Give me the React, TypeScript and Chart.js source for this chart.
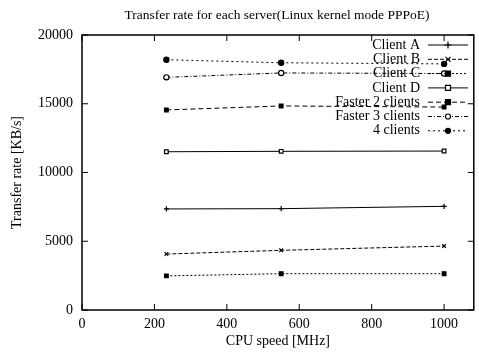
import React, { useEffect, useRef } from "react";
import { Chart, registerables } from "chart.js";

Chart.register(...registerables);

const cpuSpeeds = [233, 550, 1000];
const seriesNames = ["Client A", "Client B", "Client C", "Client D", "Faster 2 clients", "Faster 3 clients", "4 clients"];
const clientA = [7350, 7370, 7540];
const clientB = [4070, 4340, 4650];
const clientC = [2480, 2640, 2640];
const clientD = [11510, 11540, 11560];
const faster2 = [14550, 14840, 14760];
const faster3 = [16920, 17240, 17200];
const clients4 = [18200, 17980, 17900];
const xTicks = [0, 200, 400, 600, 800, 1000];
const yTicks = [0, 5000, 10000, 15000, 20000];

const FONT = "'Liberation Serif', 'DejaVu Serif', serif";

const styles = [
  { dash: [], point: "cross", fill: "#000" },
  { dash: [4, 2], point: "crossRot", fill: "#000" },
  { dash: [2, 2], point: "rect", fill: "#000" },
  { dash: [], point: "rect", fill: "#fff" },
  { dash: [5, 3], point: "rect", fill: "#000" },
  { dash: [4, 2, 1, 2], point: "circle", fill: "#fff" },
  { dash: [2, 3], point: "circle", fill: "#000" },
];

function drawMarker(ctx: CanvasRenderingContext2D, kind: string, x: number, y: number, fill: string) {
  const r = 2.5;
  ctx.save();
  ctx.setLineDash([]);
  ctx.lineWidth = 1.2;
  ctx.strokeStyle = "#000";
  ctx.fillStyle = fill;
  ctx.beginPath();
  if (kind === "cross") {
    ctx.moveTo(x - r - 1, y); ctx.lineTo(x + r + 1, y);
    ctx.moveTo(x, y - r - 1); ctx.lineTo(x, y + r + 1);
    ctx.stroke();
  } else if (kind === "crossRot") {
    ctx.moveTo(x - r, y - r); ctx.lineTo(x + r, y + r);
    ctx.moveTo(x + r, y - r); ctx.lineTo(x - r, y + r);
    ctx.stroke();
  } else if (kind === "rect") {
    ctx.rect(x - r, y - r, 2 * r, 2 * r);
    ctx.fill(); ctx.stroke();
  } else {
    ctx.arc(x, y, r, 0, Math.PI * 2);
    ctx.fill(); ctx.stroke();
  }
  ctx.restore();
}

export default function App() {
  const ref = useRef<HTMLCanvasElement>(null);
  useEffect(() => {
    const values = [clientA, clientB, clientC, clientD, faster2, faster3, clients4];
    const datasets = seriesNames.map((name, i) => ({
      label: name,
      data: cpuSpeeds.map((x, j) => ({ x, y: values[i][j] })),
      borderColor: "#000",
      borderWidth: 1,
      borderDash: styles[i].dash,
      pointStyle: styles[i].point as any,
      pointRadius: 2.6,
      pointBorderWidth: 1.2,
      pointBorderColor: "#000",
      pointBackgroundColor: styles[i].fill,
      showLine: true,
      fill: false,
      tension: 0,
    }));

    const framePlugin = {
      id: "frame",
      afterDraw(chart: any) {
        const { ctx, chartArea: a, scales } = chart;
        ctx.save();
        ctx.strokeStyle = "#000";
        ctx.lineWidth = 1.5;
        ctx.setLineDash([]);
        ctx.strokeRect(a.left, a.top, a.right - a.left, a.bottom - a.top);
        ctx.lineWidth = 1;
        ctx.beginPath();
        xTicks.forEach((v) => {
          const px = scales.x.getPixelForValue(v);
          ctx.moveTo(px, a.bottom); ctx.lineTo(px, a.bottom - 6);
          ctx.moveTo(px, a.top); ctx.lineTo(px, a.top + 6);
        });
        yTicks.forEach((v) => {
          const py = scales.y.getPixelForValue(v);
          ctx.moveTo(a.left, py); ctx.lineTo(a.left + 6, py);
          ctx.moveTo(a.right, py); ctx.lineTo(a.right - 6, py);
        });
        ctx.stroke();

        // title centered over plot
        ctx.fillStyle = "#000";
        ctx.font = `13.5px ${FONT}`;
        ctx.textAlign = "center";
        ctx.textBaseline = "middle";
        ctx.fillText("Transfer rate for each server(Linux kernel mode PPPoE)", (a.left + a.right) / 2 - 1, 15);

        // legend
        chart.data.datasets.forEach((ds: any, i: number) => {
          const y = 45 + i * 14.3;
          ctx.font = `14px ${FONT}`;
          ctx.textAlign = "right";
          ctx.fillStyle = "#000";
          ctx.fillText(ds.label, 420, y);
          ctx.save();
          ctx.strokeStyle = "#000";
          ctx.lineWidth = 1;
          ctx.setLineDash(ds.borderDash || []);
          ctx.beginPath();
          ctx.moveTo(428, y); ctx.lineTo(468, y);
          ctx.stroke();
          ctx.restore();
          drawMarker(ctx, styles[i].point, 448, y, styles[i].fill);
        });
        ctx.restore();
      },
    };

    const chart = new Chart(ref.current!, {
      type: "scatter",
      data: { datasets },
      options: {
        animation: false,
        responsive: false,
        layout: { padding: { top: 35, right: 1, left: 0, bottom: 0 } },
        plugins: { legend: { display: false }, title: { display: false }, tooltip: { enabled: false } },
        scales: {
          x: {
            type: "linear",
            min: 0,
            max: 1082,
            afterFit: (s: any) => { s.height = 43; },
            afterBuildTicks: (s: any) => { s.ticks = xTicks.map((v) => ({ value: v })); },
            grid: { display: false, drawTicks: false },
            border: { display: false },
            ticks: { color: "#000", font: { family: FONT, size: 14 }, padding: 6, maxRotation: 0, callback: (v: any) => String(v) },
            title: { display: true, text: "CPU speed [MHz]", color: "#000", font: { family: FONT, size: 14 }, padding: { top: 0, bottom: 3 } },
          },
          y: {
            type: "linear",
            min: 0,
            max: 20000,
            afterFit: (s: any) => { s.width = 82; },
            afterBuildTicks: (s: any) => { s.ticks = yTicks.map((v) => ({ value: v })); },
            grid: { display: false, drawTicks: false },
            border: { display: false },
            ticks: { color: "#000", font: { family: FONT, size: 14 }, padding: 9, callback: (v: any) => String(v) },
            title: { display: true, text: "Transfer rate [KB/s]", color: "#000", font: { family: FONT, size: 14 }, padding: { top: 9, bottom: 0 } },
          },
        },
      },
      plugins: [framePlugin],
    });
    return () => chart.destroy();
  }, []);

  return (
    <div style={{ position: "fixed", left: 0, top: 0, width: 479, height: 353, background: "#fff" }}>
      <canvas ref={ref} width={479} height={353} />
    </div>
  );
}
